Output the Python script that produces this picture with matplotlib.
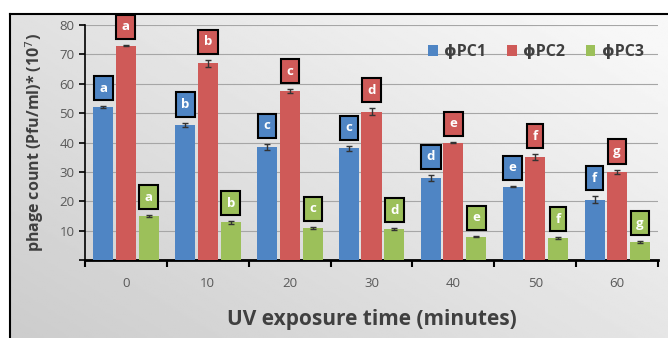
import numpy as np
import matplotlib
matplotlib.use("Agg")
import matplotlib.pyplot as plt
from matplotlib.lines import Line2D

plt.rcParams["font.family"] = ["Open Sans", "DejaVu Sans"]

# data
times = ["0", "10", "20", "30", "40", "50", "60"]
series = ["ϕPC1", "ϕPC2", "ϕPC3"]
pc1 = [52, 46, 38.5, 38, 28, 25, 20.5]
pc2 = [73, 67, 57.5, 50.5, 40, 35, 30]
pc3 = [15, 12.8, 11, 10.5, 8, 7.5, 6]
pc1_err = [0.4, 0.8, 1.0, 0.8, 1.0, 0.3, 1.2]
pc2_err = [0.3, 1.2, 0.6, 1.2, 0.2, 1.0, 0.8]
pc3_err = [0.3, 0.4, 0.3, 0.3, 0.3, 0.3, 0.3]
pc1_letters = ["a", "b", "c", "c", "d", "e", "f"]
pc2_letters = ["a", "b", "c", "d", "e", "f", "g"]
pc3_letters = ["a", "b", "c", "d", "e", "f", "g"]

colors = ["#4f85c4", "#cf5a58", "#9cc05a"]
text_col = "#595959"

fig = plt.figure(figsize=(6.68, 3.38), dpi=100)

# grey gradient background with white margin top/left
bg = fig.add_axes([10 / 668, 0, 658 / 668, 324 / 338], zorder=-10)
yy, xx = np.mgrid[0:1:200j, 0:1:300j]
grad = 0.80 + 0.18 * (0.55 * xx + 0.45 * yy)
grad = np.clip(grad, 0, 0.97)
bg.imshow(grad, cmap="gray", vmin=0, vmax=1, origin="lower", aspect="auto",
          extent=[0, 1, 0, 1])
bg.set_axis_off()
fig.add_artist(Line2D([10 / 668, 1], [1 - 14 / 338, 1 - 14 / 338],
                      transform=fig.transFigure, color="black", lw=1.5))
fig.add_artist(Line2D([10 / 668, 10 / 668], [0, 1 - 14 / 338],
                      transform=fig.transFigure, color="black", lw=1.5))

ax = fig.add_axes([85 / 668, 1 - 260 / 338, 573 / 668, 235 / 338])
ax.set_facecolor("none")

x = np.arange(len(times))
width = 0.245
offsets = [-0.275, 0, 0.28]
data = [pc1, pc2, pc3]
errs = [pc1_err, pc2_err, pc3_err]
letters = [pc1_letters, pc2_letters, pc3_letters]

for vals, err, lets, off, col, name in zip(data, errs, letters, offsets, colors, series):
    ax.bar(x + off, vals, width, color=col, label=name, zorder=3,
           yerr=err, capsize=2.5, error_kw=dict(ecolor="#333333", elinewidth=1, capthick=1, zorder=4))
    for xi, v, e, l in zip(x, vals, err, lets):
        ax.annotate(l, (xi + off, v + e), xytext=(0, 13), textcoords="offset points",
                    ha="center", va="center", color="white", fontsize=9.5, fontweight="bold",
                    bbox=dict(boxstyle="square,pad=0.42", fc=col, ec="black", lw=1.5),
                    zorder=5)

ax.set_xlim(-0.5, 6.5)
ax.set_ylim(0, 80)
ax.set_yticks(range(0, 81, 10))
ax.set_yticklabels([""] + [str(v) for v in range(10, 81, 10)])
ax.set_xticks(x)
ax.set_xticklabels(times)
ax.set_xticks(np.arange(-0.5, 7, 1), minor=True)
ax.tick_params(axis="x", which="major", length=0, pad=12, labelsize=9.5, labelcolor=text_col)
ax.tick_params(axis="x", which="minor", length=5, width=1.5, direction="out")
ax.tick_params(axis="y", length=4, width=1.2, labelsize=9.5, labelcolor=text_col)
ax.grid(axis="y", color="#a6a6a6", lw=0.8, zorder=0)
for s in ["top", "right"]:
    ax.spines[s].set_visible(False)
ax.spines["left"].set_linewidth(1.2)
ax.spines["bottom"].set_linewidth(2)

ax.set_xlabel("UV exposure time (minutes)", fontsize=15, fontweight="bold",
              color="#404040", labelpad=14)
ax.set_ylabel("phage count (Pfu/ml)* (10$^7$)", fontsize=11.5, fontweight="bold",
              color="#404040", labelpad=10)

ax.legend(loc="upper right", bbox_to_anchor=(1.0, 0.98), ncol=3, frameon=False,
          prop=dict(weight="bold", size=11.5), handlelength=0.6, handleheight=0.6,
          columnspacing=1.3, handletextpad=0.4, labelcolor="#404040")

fig.savefig("out.png", dpi=100)
